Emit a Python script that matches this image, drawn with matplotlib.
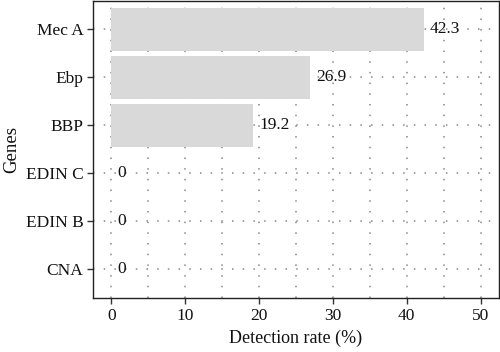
import matplotlib
matplotlib.use("Agg")
import matplotlib.pyplot as plt
from matplotlib.ticker import MultipleLocator

plt.rcParams['font.family'] = ['Liberation Serif', 'DejaVu Serif']

# Data (top to bottom as shown)
genes = ["Mec A", "Ebp", "BBP", "EDIN C", "EDIN B", "CNA"]
rates = [42.3, 26.9, 19.2, 0, 0, 0]
xticks = [0, 10, 20, 30, 40, 50]

fig = plt.figure(figsize=(5.0, 3.52), dpi=100)
ax = fig.add_axes([0.186, 0.153, 0.812, 0.845])

ypos = list(range(len(genes), 0, -1))
ax.barh(ypos, rates, height=0.88, color="#d9d9d9", zorder=2)

for y, v in zip(ypos, rates):
    ax.annotate(f"{v:g}", (v, y), xytext=(4.5, 0), textcoords="offset points",
                ha="left", va="center", fontsize=12.5, color="#111111", zorder=3)

ax.set_xlim(-2.5, 52.5)
ax.set_ylim(0.4, len(genes) + 0.6)
ax.set_xticks(xticks)
ax.xaxis.set_minor_locator(MultipleLocator(5))
ax.set_yticks(ypos)
ax.set_yticklabels(genes)

ax.grid(True, which="major", axis="both", linestyle=(0, (1, 6)), color="#888888", linewidth=1.1, zorder=0)
ax.grid(True, which="minor", axis="x", linestyle=(0, (1, 6)), color="#888888", linewidth=1.1, zorder=0)
ax.set_axisbelow(True)

ax.tick_params(axis="both", which="major", direction="out", length=4, width=1.0,
               color="#333333", labelsize=12.5, labelcolor="#111111", pad=3)
ax.tick_params(axis="x", which="minor", length=0)
for s in ax.spines.values():
    s.set_color("#222222")
    s.set_linewidth(1.0)

ax.set_xlabel("Detection rate (%)", fontsize=13, color="#111111", labelpad=4)
ax.set_ylabel("Genes", fontsize=13.5, color="#111111", va="top")
ax.yaxis.set_label_coords(-0.222, 0.5)

fig.savefig("out.png", dpi=100)
